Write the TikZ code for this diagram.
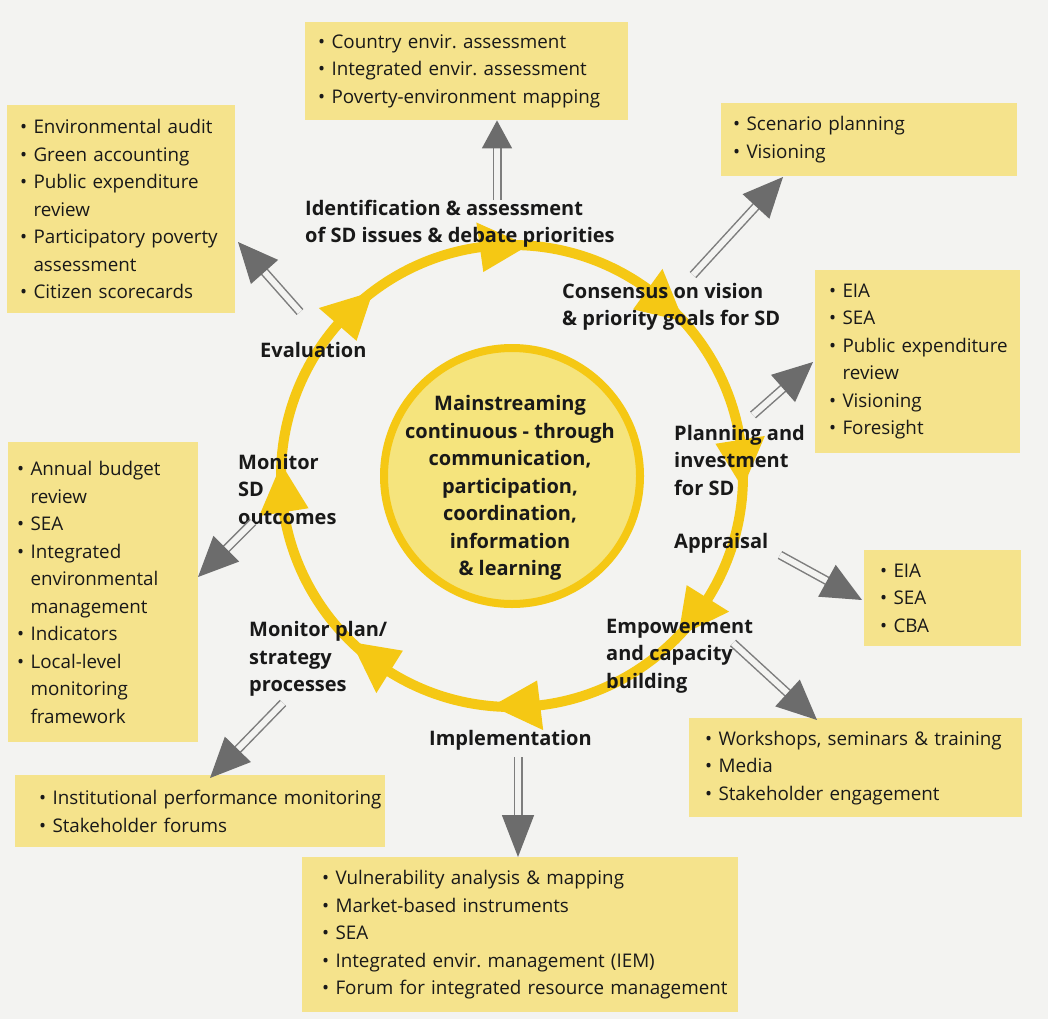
\documentclass[tikz,border=0pt]{standalone}
\usepackage{fontspec}
\setmainfont{Open Sans}
\usetikzlibrary{arrows.meta,calc}

\definecolor{bgpage}{RGB}{243,243,241}
\definecolor{boxfill}{RGB}{245,227,140}
\definecolor{ringyel}{RGB}{245,200,20}
\definecolor{corefill}{RGB}{245,228,125}
\definecolor{arrgrey}{RGB}{125,125,125}
\definecolor{tipgrey}{RGB}{108,108,108}

\newcommand{\itm}[1]{\mbox{\textbullet\ #1}}
\newcommand{\cont}[1]{\mbox{\phantom{\textbullet\ }#1}}

\tikzset{
	toolbox/.style={fill=boxfill, anchor=north west, align=left, inner ysep=0pt, text=black!90,
		font=\fontsize{18.8}{27.5}\selectfont},
	stage/.style={anchor=west, align=left, inner sep=0pt, text=black!90,
		font=\fontsize{20}{27.5}\selectfont\bfseries},
	feed/.style={draw=arrgrey, line width=1.5pt, double=bgpage, double distance=6pt,
		-{Triangle[length=40pt,width=36pt,fill=tipgrey,color=tipgrey]}},
}

\begin{document}
\frenchspacing
\begin{tikzpicture}[x=1pt,y=-1pt]
	\fill[bgpage] (0,0) rectangle (1048,1019);
	\useasboundingbox (0,0) rectangle (1048,1019);

	% cycle
	\coordinate (c) at (512,476);
	\draw[ringyel, line width=10pt] (c) circle (231);
	\foreach \t in {268,312,357,38,89,128,177,227}
		\fill[ringyel] ($(c)+({\t+6}:231)$) -- ($(c)+({\t-6}:256)$) -- ($(c)+({\t-6}:206)$) -- cycle;
	\draw[ringyel, fill=corefill, line width=8pt] (c) circle (128);
	\node[stage, anchor=center, align=center] (core) at (510,488)
		{Mainstreaming\\continuous - through\\communication,\\participation,\\coordination,\\information\\\& learning};

	% stages
	\node[stage] (ident) at (305,224) {Identification \& assessment\\of SD issues \& debate priorities};
	\node[stage] (vision) at (562,307) {Consensus on vision\\\& priority goals for SD};
	\node[stage] (plan) at (674,460) {Planning and\\investment\\for SD};
	\node[stage] (apprais) at (674,543) {Appraisal};
	\node[stage] (empower) at (606,656) {Empowerment\\and capacity\\building};
	\node[stage] (implem) at (429,740) {Implementation};
	\node[stage] (monplan) at (249,659) {Monitor plan/\\strategy\\processes};
	\node[stage] (monsd) at (238,489) {Monitor\\SD\\outcomes};
	\node[stage] (evalu) at (260,350) {Evaluation};

	% tool boxes
	\node[toolbox, inner xsep=13, text width=297, minimum height=98] (ctry) at (305,22)
		{\itm{Country envir. assessment}\\\itm{Integrated envir. assessment}\\\itm{Poverty-environment mapping}};
	\node[toolbox, inner xsep=13, text width=202, minimum height=208] (audit) at (7,105)
		{\itm{Environmental audit}\\\itm{Green accounting}\\\itm{Public expenditure}\\\cont{review}\\
		\itm{Participatory poverty}\\\cont{assessment}\\\itm{Citizen scorecards}};
	\node[toolbox, inner xsep=12, text width=272, minimum height=73] (scen) at (721,103)
		{\itm{Scenario planning}\\\itm{Visioning}};
	\node[toolbox, inner xsep=14, text width=177, minimum height=183] (eiaplan) at (815,270)
		{\itm{EIA}\\\itm{SEA}\\\itm{Public expenditure}\\\cont{review}\\\itm{Visioning}\\\itm{Foresight}};
	\node[toolbox, inner xsep=16, text width=125, minimum height=96] (eiacba) at (864,550)
		{\itm{EIA}\\\itm{SEA}\\\itm{CBA}};
	\node[toolbox, inner xsep=16, text width=301, minimum height=99] (work) at (689,718)
		{\itm{Workshops, seminars \& training}\\\itm{Media}\\\itm{Stakeholder engagement}};
	\node[toolbox, inner xsep=20, text width=396, minimum height=155] (vuln) at (302,857)
		{\itm{Vulnerability analysis \& mapping}\\\itm{Market-based instruments}\\\itm{SEA}\\
		\itm{Integrated envir. management (IEM)}\\\itm{Forum for integrated resource management}};
	\node[toolbox, inner xsep=24, text width=322, minimum height=72] (instit) at (15,775)
		{\itm{Institutional performance monitoring}\\\itm{Stakeholder forums}};
	\node[toolbox, inner xsep=9, text width=172, minimum height=300] (budget) at (8,442)
		{\itm{Annual budget}\\\cont{review}\\\itm{SEA}\\\itm{Integrated}\\\cont{environmental}\\\cont{management}\\
		\itm{Indicators}\\\itm{Local-level}\\\cont{monitoring}\\\cont{framework}};

	% links to tools
	\coordinate (s1) at (497,200);
	\coordinate (s2) at (300,312);
	\coordinate (t2) at (238,242);
	\coordinate (s3) at (693,275);
	\coordinate (t3) at (783,177);
	\coordinate (s4) at (753,415);
	\coordinate (t4) at (813,362);
	\coordinate (s5) at (780,555);
	\coordinate (t5) at (862,600);
	\coordinate (s6) at (733,643);
	\coordinate (t6) at (817,720);
	\coordinate (s7) at (518,757);
	\coordinate (s8) at (283,703);
	\coordinate (t8) at (210,778);
	\coordinate (s9) at (253,522);
	\coordinate (t9) at (198,577);
	\draw[feed, -{Triangle[length=28pt,width=30pt,fill=tipgrey,color=tipgrey]}] (s1) -- (ctry.south -| s1);
	\draw[feed] (s2) -- (t2);
	\draw[feed] (s3) -- (t3);
	\draw[feed] (s4) -- (t4);
	\draw[feed] (s5) -- (t5);
	\draw[feed] (s6) -- (t6);
	\draw[feed, -{Triangle[length=42pt,width=32pt,fill=tipgrey,color=tipgrey]}] (s7) -- (vuln.north -| s7);
	\draw[feed] (s8) -- (t8);
	\draw[feed] (s9) -- (t9);
\end{tikzpicture}
\end{document}
